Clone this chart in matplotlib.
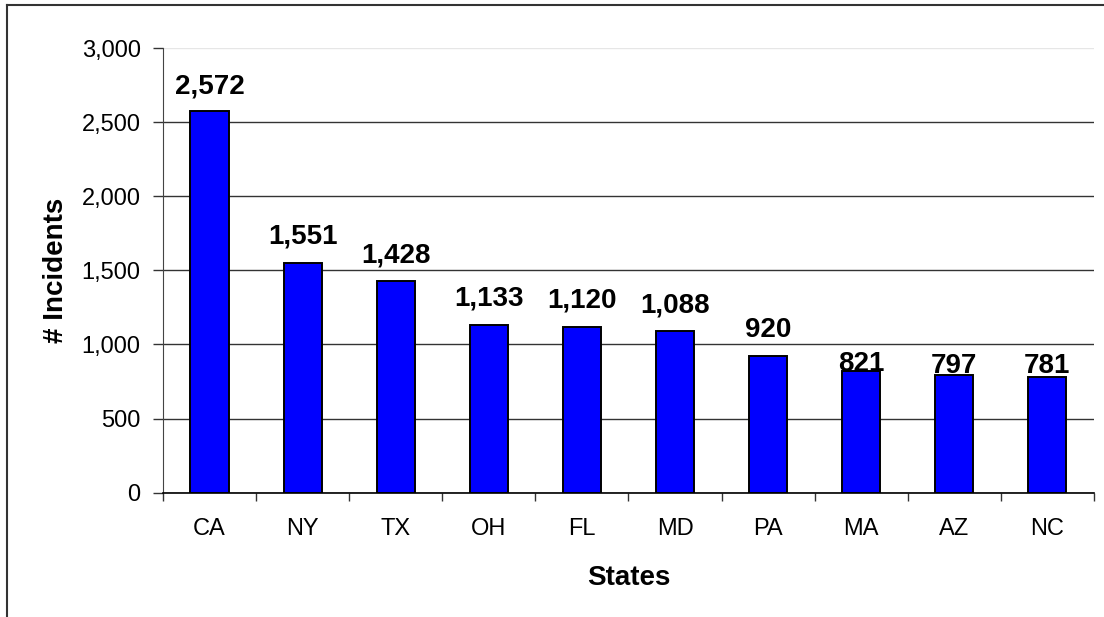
import matplotlib
matplotlib.use("Agg")
import matplotlib.pyplot as plt
from matplotlib.lines import Line2D
from matplotlib.ticker import StrMethodFormatter, FixedLocator

# Data
states = ["CA", "NY", "TX", "OH", "FL", "MD", "PA", "MA", "AZ", "NC"]
incidents = [2572, 1551, 1428, 1133, 1120, 1088, 920, 821, 797, 781]
# gap (in pixels) between each bar top and its label baseline
label_gap_px = [18, 19, 19, 19, 19, 19, 19, 0, 2, 4]

plt.rcParams["font.family"] = ["Liberation Sans", "DejaVu Sans"]

fig = plt.figure(figsize=(11.04, 6.17), dpi=100)
ax = fig.add_axes([0.1476, 0.2015, 0.9909 - 0.1476, 0.9222 - 0.2015])

x = range(len(states))
ax.bar(x, incidents, width=0.41, color="#0000FF", edgecolor="black",
       linewidth=1.4, zorder=3)

# Value labels above bars
for i, v in enumerate(incidents):
    ax.annotate(f"{v:,}", xy=(i, v), xytext=(0, label_gap_px[i] * 0.72),
                textcoords="offset points", ha="center", va="baseline",
                fontsize=20, fontweight="bold", color="black", zorder=4)

# Axes limits and ticks
ax.set_xlim(-0.5, len(states) - 0.5)
ax.set_ylim(0, 3000)
ax.set_yticks(range(0, 3001, 500))
ax.yaxis.set_major_formatter(StrMethodFormatter("{x:,.0f}"))
ax.set_xticks(list(x))
ax.set_xticklabels(states)
ax.xaxis.set_minor_locator(FixedLocator([i - 0.5 for i in range(len(states) + 1)]))
ax.tick_params(axis="x", which="major", length=0, pad=18, labelsize=17)
ax.tick_params(axis="x", which="minor", length=6, width=1.0, color="#333333")
ax.tick_params(axis="y", length=7, width=1.0, color="#333333", pad=9, labelsize=17)

# Gridlines
ax.yaxis.grid(True, color="#333333", linewidth=1.0, zorder=0)
ax.set_axisbelow(True)
ax.get_ygridlines()[-1].set_color("#e6e6e6")

# Spines
ax.spines["top"].set_visible(False)
ax.spines["right"].set_visible(False)
ax.spines["left"].set_color("#444444")
ax.spines["bottom"].set_color("black")
ax.spines["bottom"].set_linewidth(1.2)

# Axis labels
ax.set_xlabel("States", fontsize=20, fontweight="bold", va="center")
ax.xaxis.set_label_coords(0.5, -0.193)
ax.set_ylabel("# Incidents", fontsize=20, fontweight="bold", va="center")
ax.yaxis.set_label_coords(-0.115, 0.5)

# Outer chart frame (left and top edges visible in the crop)
fx = 7 / 1104
fy = 1 - 5 / 617
fig.add_artist(Line2D([fx, fx], [-0.1, fy], transform=fig.transFigure,
                      color="#333333", linewidth=1.5))
fig.add_artist(Line2D([fx, 1.1], [fy, fy], transform=fig.transFigure,
                      color="#333333", linewidth=1.5))

fig.savefig("out.png", dpi=100)
